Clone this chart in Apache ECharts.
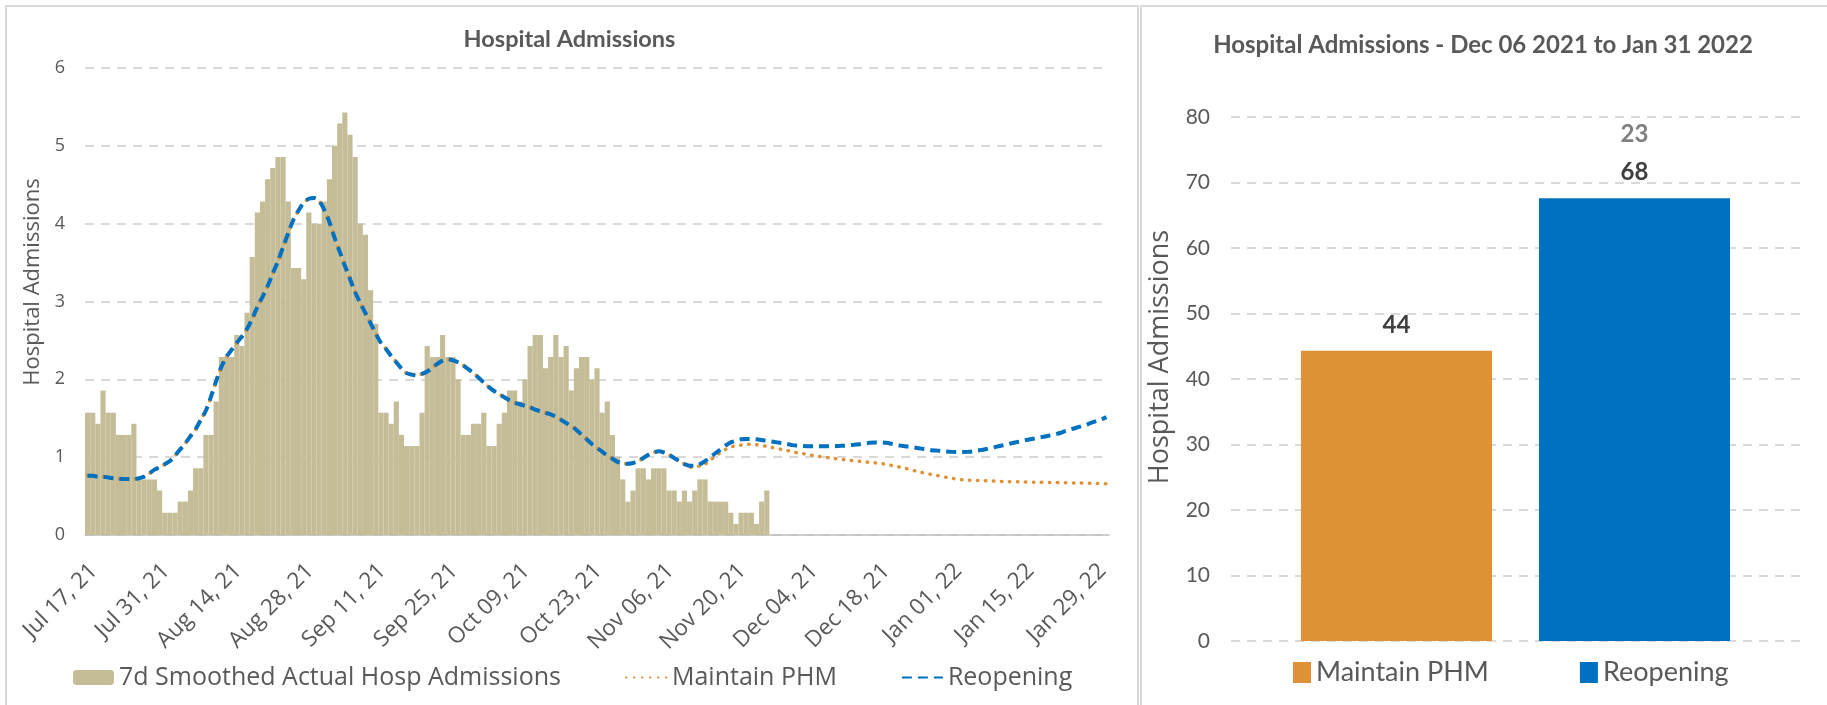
<!DOCTYPE html>
<html>
<head>
<meta charset="utf-8">
<script src="https://cdn.jsdelivr.net/npm/echarts@6/dist/echarts.min.js"></script>
<style>
  html, body { margin: 0; padding: 0; background: #ffffff; }
  #wrap { position: relative; width: 1827px; height: 705px; overflow: hidden; background: #fff; }
  #left { position: absolute; left: 0; top: 0; width: 1139px; height: 705px; }
  #right { position: absolute; left: 1139px; top: 0; width: 688px; height: 705px; }
</style>
</head>
<body>
<div id="wrap"><div id="left"></div><div id="right"></div></div>
<script>
// ---------- data ----------
const startDate = '2021-07-17';
const dayCount = 199;
const leftTitle = 'Hospital Admissions';
const rightTitle = 'Hospital Admissions - Dec 06 2021 to Jan 31 2022';
const yAxisName = 'Hospital Admissions';
const seriesNames = ['7d Smoothed Actual Hosp Admissions', 'Maintain PHM', 'Reopening'];

// 7-day smoothed actual admissions (Jul 17 .. Nov 26, 2021)
const actualAdmissions = [
  1.571,1.571,1.429,1.857,1.571,1.571,1.286,1.286,1.286,1.429,
  0.714,0.714,0.714,0.714,0.571,0.286,0.286,0.286,0.429,0.429,
  0.571,0.857,0.857,1.286,1.286,1.714,2.286,2.286,2.286,2.571,
  2.429,2.857,3.571,4.143,4.286,4.571,4.714,4.857,4.857,4.286,
  3.429,3.429,3.286,4.143,4.000,4.000,4.286,4.571,5.000,5.286,
  5.429,5.143,4.857,4.000,3.857,3.143,2.714,1.571,1.571,1.429,
  1.714,1.286,1.143,1.143,1.143,1.571,2.429,2.286,2.286,2.571,
  2.286,2.286,2.000,1.286,1.286,1.429,1.429,1.571,1.143,1.143,
  1.429,1.571,1.857,1.857,1.714,2.000,2.429,2.571,2.571,2.143,
  2.286,2.571,2.286,2.429,1.857,2.143,2.286,2.286,2.000,2.143,
  1.571,1.714,1.286,1.000,0.714,0.429,0.571,0.857,0.857,0.714,
  0.857,0.857,0.857,0.571,0.571,0.429,0.571,0.429,0.571,0.714,
  0.714,0.429,0.429,0.429,0.429,0.286,0.143,0.286,0.286,0.286,
  0.143,0.429,0.571
];

// Scenario projections, daily Jul 17, 2021 .. Jan 31, 2022
const maintainPHM = [
  0.76,0.76,0.75,0.75,0.74,0.73,0.725,0.72,0.72,0.72,
  0.73,0.75,0.79,0.84,0.87,0.91,0.95,1.02,1.10,1.18,
  1.27,1.36,1.48,1.60,1.78,1.98,2.16,2.29,2.38,2.47,
  2.55,2.65,2.78,2.93,3.06,3.20,3.36,3.52,3.70,3.88,
  4.05,4.17,4.27,4.32,4.33,4.29,4.18,4.02,3.82,3.64,
  3.46,3.29,3.12,2.98,2.85,2.72,2.59,2.47,2.39,2.30,
  2.22,2.14,2.08,2.06,2.05,2.07,2.10,2.15,2.20,2.24,
  2.255,2.245,2.22,2.18,2.13,2.08,2.02,1.96,1.90,1.85,
  1.81,1.77,1.73,1.70,1.68,1.66,1.64,1.61,1.59,1.57,
  1.55,1.52,1.48,1.44,1.40,1.35,1.29,1.23,1.17,1.12,
  1.07,1.02,0.98,0.94,0.92,0.915,0.925,0.95,0.99,1.03,
  1.06,1.075,1.06,1.03,0.99,0.95,0.91,0.87,0.87,0.89,
  0.91,0.96,1.01,1.06,1.10,1.13,1.145,1.155,1.165,1.165,
  1.16,1.15,1.14,1.125,1.11,1.098,1.085,1.07,1.055,1.045,
  1.035,1.022,1.012,1.002,0.993,0.985,0.975,0.968,0.96,0.953,
  0.947,0.94,0.933,0.927,0.92,0.91,0.897,0.885,0.87,0.855,
  0.84,0.82,0.805,0.79,0.778,0.765,0.752,0.74,0.728,0.718,
  0.71,0.706,0.703,0.70,0.698,0.695,0.693,0.69,0.688,0.686,
  0.684,0.683,0.681,0.68,0.679,0.677,0.676,0.675,0.674,0.672,
  0.671,0.67,0.668,0.667,0.666,0.665,0.663,0.66,0.658
];
const reopening = [
  0.76,0.76,0.75,0.75,0.74,0.73,0.725,0.72,0.72,0.72,
  0.73,0.75,0.79,0.84,0.87,0.91,0.95,1.02,1.10,1.18,
  1.27,1.36,1.48,1.60,1.78,1.98,2.16,2.29,2.38,2.47,
  2.55,2.65,2.78,2.93,3.06,3.20,3.36,3.52,3.70,3.88,
  4.05,4.17,4.27,4.32,4.33,4.29,4.18,4.02,3.82,3.64,
  3.46,3.29,3.12,2.98,2.85,2.72,2.59,2.47,2.39,2.30,
  2.22,2.14,2.08,2.06,2.05,2.07,2.10,2.15,2.20,2.24,
  2.255,2.245,2.22,2.18,2.13,2.08,2.02,1.96,1.90,1.85,
  1.81,1.77,1.73,1.70,1.68,1.66,1.64,1.61,1.59,1.57,
  1.55,1.52,1.48,1.44,1.40,1.35,1.29,1.23,1.17,1.12,
  1.07,1.02,0.98,0.94,0.92,0.915,0.925,0.95,0.99,1.03,
  1.06,1.075,1.06,1.03,0.99,0.95,0.91,0.89,0.89,0.91,
  0.95,1.00,1.05,1.10,1.15,1.19,1.21,1.23,1.235,1.235,
  1.23,1.22,1.21,1.20,1.19,1.18,1.17,1.155,1.15,1.145,
  1.14,1.14,1.14,1.14,1.14,1.14,1.145,1.148,1.155,1.16,
  1.165,1.175,1.185,1.19,1.19,1.185,1.175,1.16,1.148,1.14,
  1.13,1.12,1.11,1.10,1.09,1.085,1.08,1.072,1.068,1.066,
  1.066,1.068,1.075,1.085,1.095,1.11,1.125,1.14,1.155,1.17,
  1.185,1.20,1.215,1.228,1.24,1.255,1.265,1.28,1.295,1.31,
  1.335,1.355,1.375,1.395,1.415,1.44,1.462,1.485,1.515
];

// Totals Dec 06 2021 - Jan 31 2022
const totalCategories = ['Maintain PHM', 'Reopening'];
const totalValues = [44.3, 67.6];
const totalNotes = [null, 23];

const leftYTicks = { min: 0, max: 6, interval: 1 };
const rightYTicks = { min: 0, max: 80, interval: 10 };

// ---------- categories ----------
const MONTHS = ['Jan','Feb','Mar','Apr','May','Jun','Jul','Aug','Sep','Oct','Nov','Dec'];
function fmtDate(d) {
  return MONTHS[d.getUTCMonth()] + ' ' + String(d.getUTCDate()).padStart(2, '0') + ', ' + String(d.getUTCFullYear()).slice(2);
}
const dates = [];
{
  const s = new Date(startDate + 'T00:00:00Z');
  for (let i = 0; i < dayCount; i++) {
    dates.push(fmtDate(new Date(s.getTime() + i * 86400000)));
  }
}

const GREY = '#595959';
const GRID = '#D9D9D9';
const ORANGE = '#DE9135';
const BLUE = '#0070C0';
const TAN = '#C4BD97';

// ---------- left chart ----------
const left = echarts.init(document.getElementById('left'), null, { renderer: 'canvas' });
left.setOption({
  animation: false,
  backgroundColor: '#fff',
  textStyle: { fontFamily: 'Open Sans' },
  graphic: [{
    type: 'rect', shape: { x: 6, y: 6, width: 1132, height: 730 },
    style: { fill: 'none', stroke: GRID, lineWidth: 2 }, silent: true
  }],
  title: {
    text: leftTitle, left: 'center', top: 22,
    textStyle: { fontFamily: 'Lato', fontWeight: 'bold', fontSize: 23.5, color: GREY }
  },
  grid: { left: 85, right: 30, top: 68, bottom: 170, outerBoundsMode: 'none' },
  legend: {
    left: 73, top: 665, padding: 0, itemWidth: 41, itemHeight: 15, itemGap: 64,
    textStyle: { fontSize: 25, color: GREY, fontFamily: 'Open Sans' },
    data: [
      { name: seriesNames[0] },
      { name: seriesNames[1], itemStyle: { opacity: 0 } },
      { name: seriesNames[2], itemStyle: { opacity: 0 } }
    ]
  },
  xAxis: {
    type: 'category', data: dates, boundaryGap: true,
    axisLine: { lineStyle: { color: '#BFBFBF', width: 1.5 } },
    axisTick: { interval: 13, length: 7, lineStyle: { color: '#BFBFBF', width: 1.5 } },
    axisLabel: {
      interval: 13, rotate: 45, fontSize: 22.5, color: GREY, margin: 26,
      verticalAlign: 'top', lineHeight: 18
    },
    splitLine: { show: false }
  },
  yAxis: {
    type: 'value', min: leftYTicks.min, max: leftYTicks.max, interval: leftYTicks.interval,
    name: yAxisName, nameLocation: 'middle', nameGap: 41,
    nameTextStyle: { fontSize: 22, color: GREY, padding: [0, 0, 0, 39] },
    axisLine: { show: false }, axisTick: { show: false },
    axisLabel: { fontSize: 18, color: GREY, margin: 20 },
    splitLine: { lineStyle: { color: GRID, width: 2, type: [9, 7] } }
  },
  series: [
    {
      name: seriesNames[0], type: 'bar', data: actualAdmissions,
      barCategoryGap: '0%', itemStyle: { color: TAN }, color: TAN
    },
    {
      name: seriesNames[1], type: 'line', data: maintainPHM, symbol: 'none', smooth: 0.3,
      color: ORANGE,
      lineStyle: { color: ORANGE, width: 3.5, type: [0.5, 7.5], cap: 'round' }
    },
    {
      name: seriesNames[2], type: 'line', data: reopening, symbol: 'none', smooth: 0.3,
      color: BLUE,
      lineStyle: { color: BLUE, width: 4, type: [10, 6] }
    }
  ]
});

// ---------- right chart ----------
const right = echarts.init(document.getElementById('right'), null, { renderer: 'canvas' });
function barSeries(i, color) {
  return {
    name: totalCategories[i], type: 'bar', data: [totalValues[i]],
    barWidth: 191, barGap: '24.6%', color: color, itemStyle: { color: color },
    label: {
      show: true, position: 'top', distance: 7,
      formatter: function (p) {
        const note = totalNotes[i];
        return (note != null ? '{n|' + note + '}\n' : '') + '{v|' + Math.round(p.value) + '}';
      },
      rich: {
        n: { fontFamily: 'Lato', fontWeight: 'bold', fontSize: 24, color: '#7F7F7F', lineHeight: 38 },
        v: { fontFamily: 'Lato', fontWeight: 'bold', fontSize: 24, color: '#404040', lineHeight: 38 }
      }
    }
  };
}
right.setOption({
  animation: false,
  backgroundColor: '#fff',
  graphic: [{
    type: 'rect', shape: { x: 2, y: 6, width: 720, height: 730 },
    style: { fill: 'none', stroke: GRID, lineWidth: 2 }, silent: true
  }],
  title: {
    text: rightTitle, left: 'center', top: 28,
    textStyle: { fontFamily: 'Lato', fontWeight: 'bold', fontSize: 24, color: GREY }
  },
  grid: { left: 92, right: 27, top: 117, bottom: 64, outerBoundsMode: 'none' },
  legend: {
    left: 154, top: 659, padding: 0, icon: 'rect', itemWidth: 18, itemHeight: 21, itemGap: 91,
    textStyle: { fontFamily: 'Lato', fontSize: 27, color: GREY },
    data: totalCategories
  },
  xAxis: {
    type: 'category', data: [''],
    axisLine: { show: false }, axisTick: { show: false }, axisLabel: { show: false }
  },
  yAxis: {
    type: 'value', min: rightYTicks.min, max: rightYTicks.max, interval: rightYTicks.interval,
    name: yAxisName, nameLocation: 'middle', nameGap: 57,
    nameTextStyle: { fontFamily: 'Open Sans', fontSize: 27, color: GREY, padding: [0, 0, 0, 44] },
    axisLine: { show: false }, axisTick: { show: false },
    axisLabel: { fontFamily: 'Lato', fontSize: 21, color: GREY, margin: 21 },
    splitLine: { lineStyle: { color: GRID, width: 2, type: [9, 7] } }
  },
  series: [barSeries(0, ORANGE), barSeries(1, BLUE)]
});
</script>
</body>
</html>
